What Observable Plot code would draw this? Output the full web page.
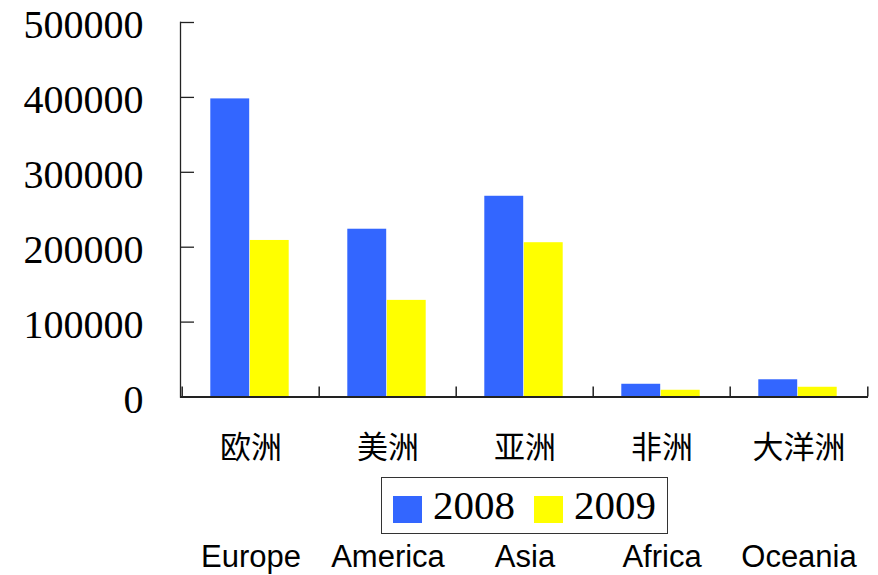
<!DOCTYPE html>
<html>
<head>
<meta charset="utf-8">
<script src="https://cdn.jsdelivr.net/npm/d3@7"></script>
<script src="https://cdn.jsdelivr.net/npm/@observablehq/plot@0.6"></script>
<style>
  html, body { margin: 0; padding: 0; background: #fff; }
  #wrap { position: relative; width: 878px; height: 575px; overflow: hidden; }
  #legend { position: absolute; left: 381px; top: 477px; width: 287px; height: 57px; box-sizing: border-box;
            border: 1.5px solid #333; background: #fff; font-family: "Liberation Serif", serif; font-size: 41px; }
  #legend .sw { position: absolute; top: 18px; width: 29px; height: 27px; }
  #legend .lb { position: absolute; top: 2px; line-height: 50px; color: #000; }
</style>
</head>
<body>
<div id="wrap"></div>
<script>
const categories = ["欧洲", "美洲", "亚洲", "非洲", "大洋洲"];
const categoriesEn = ["Europe", "America", "Asia", "Africa", "Oceania"];
const series = ["2008", "2009"];
const values2008 = [398000, 224000, 268000, 17000, 23000];
const values2009 = [209000, 129000, 206000, 9000, 13000];
const yTicks = [0, 100000, 200000, 300000, 400000, 500000];
const colors = ["#3366FF", "#FFFF00"];

const W = 878, H = 575;
const mL = 180, mR = 10, mT = 22, mB = 178.5;
const bw = (W - mL - mR) / categories.length;
const barW = 39.5;
const pad = (bw - 2 * barW) / 2 - 1;

const d2008 = categories.map((c, i) => ({cat: c, v: values2008[i]}));
const d2009 = categories.map((c, i) => ({cat: c, v: values2009[i]}));

const plot = Plot.plot({
  width: W, height: H,
  marginLeft: mL, marginRight: mR, marginTop: mT, marginBottom: mB,
  style: {background: "#fff", color: "#000"},
  x: {domain: categories, padding: 0},
  y: {domain: [0, 500000]},
  marks: [
    Plot.barY(d2008, {x: "cat", y: "v", fill: colors[0], insetLeft: pad, insetRight: bw - pad - barW}),
    Plot.barY(d2009, {x: "cat", y: "v", fill: colors[1], insetLeft: pad + barW, insetRight: bw - pad - 2 * barW}),
    Plot.frame({anchor: "left", stroke: "#222", strokeWidth: 1.3}),
    Plot.ruleY([0], {stroke: "#222", strokeWidth: 2}),
    Plot.axisY({ticks: yTicks, tickSize: -14, tickFormat: () => "", label: null, stroke: "#222", strokeWidth: 1.3}),
    Plot.axisY({ticks: yTicks, tickSize: 0, tickPadding: 37, dy: 3, tickFormat: d => String(d), label: null,
                fontSize: 40, fontFamily: "Liberation Serif"}),
    Plot.axisX({ticks: categories, tickSize: -10, dx: -bw / 2, tickFormat: () => "", label: null, stroke: "#222", strokeWidth: 1.5}),
    Plot.axisX({ticks: [categories[categories.length - 1]], tickSize: -10, dx: bw / 2, tickFormat: () => "", label: null, stroke: "#222", strokeWidth: 1.5}),
    Plot.axisX({ticks: categories, tickSize: 0, tickPadding: 39, label: null, fontSize: 31, fontFamily: "Noto Sans CJK SC"}),
    Plot.axisX({ticks: categories, tickSize: 0, tickPadding: 148, label: null, fontSize: 31, fontFamily: "Liberation Sans",
                tickFormat: d => categoriesEn[categories.indexOf(d)]})
  ]
});

const wrap = document.getElementById("wrap");
wrap.appendChild(plot);

const legend = document.createElement("div");
legend.id = "legend";
const offs = [{sw: 11, lb: 51}, {sw: 152, lb: 192}];
series.forEach((s, i) => {
  const sw = document.createElement("div");
  sw.className = "sw";
  sw.style.left = offs[i].sw + "px";
  sw.style.background = colors[i];
  const lb = document.createElement("div");
  lb.className = "lb";
  lb.style.left = offs[i].lb + "px";
  lb.textContent = s;
  legend.appendChild(sw);
  legend.appendChild(lb);
});
wrap.appendChild(legend);
</script>
</body>
</html>
